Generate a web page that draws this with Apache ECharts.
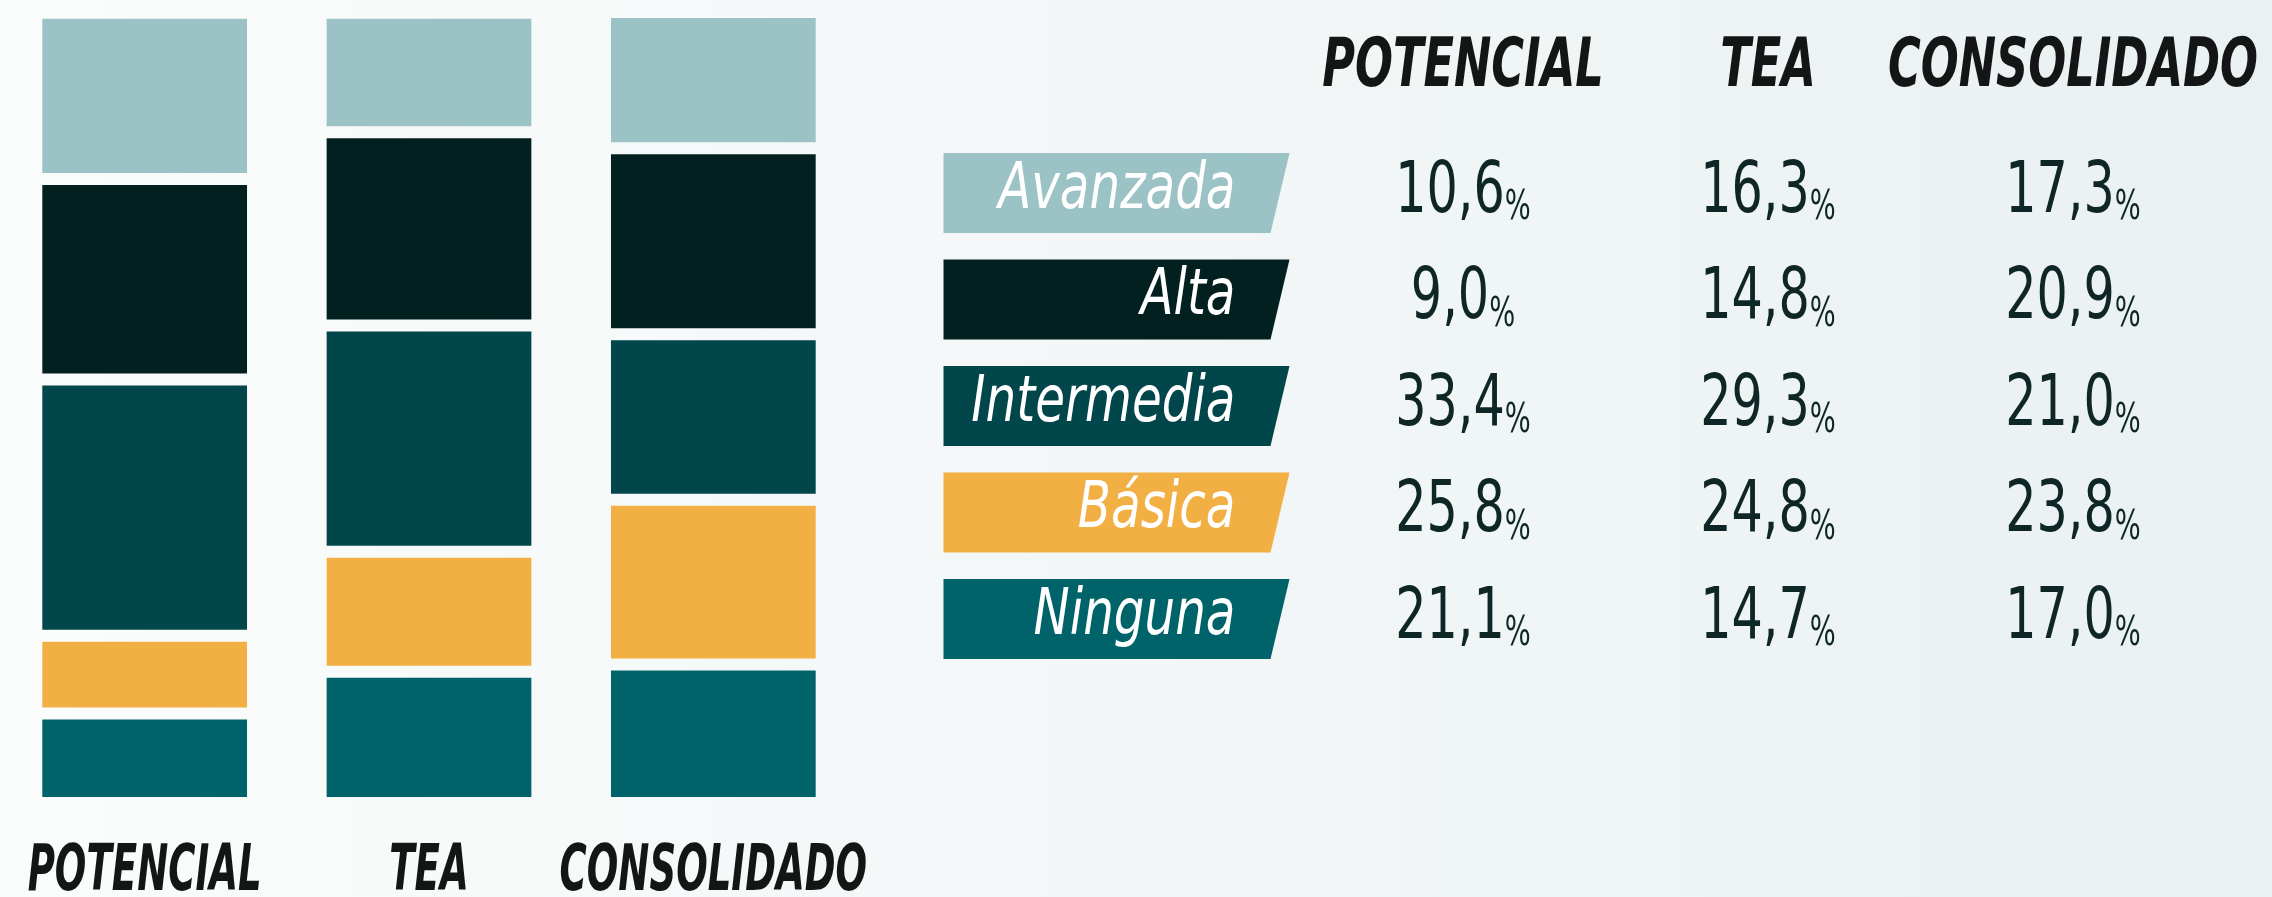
<!DOCTYPE html>
<html lang="es">
<head>
<meta charset="utf-8">
<title>Competencias digitales por grupo</title>
<script src="https://cdn.jsdelivr.net/npm/echarts@6/dist/echarts.min.js"></script>
<style>
    html, body { margin: 0; padding: 0; }
    #chart { width: 2272px; height: 897px; }
</style>
</head>
<body>
<div id="chart"></div>
<script>
    var groups = ['POTENCIAL', 'TEA', 'CONSOLIDADO'];
    var levels = ['Avanzada', 'Alta', 'Intermedia', 'Básica', 'Ninguna'];
    var levelColors = ['#9bc2c5', '#02201f', '#00464b', '#f2af43', '#00636a'];

    // % per level, in table order (Avanzada ... Ninguna)
    var potencial = [10.6, 9.0, 33.4, 25.8, 21.1];
    var tea = [16.3, 14.8, 29.3, 24.8, 14.7];
    var consolidado = [17.3, 20.9, 21.0, 23.8, 17.0];
    var columns = [potencial, tea, consolidado];

    // only condensed face available, squeezed further with scaleX
    var FONT = "'DejaVu Sans Condensed', 'DejaVu Sans', sans-serif";
    var GAP = 12;
    var INK = '#141616';

    // the bars stack the table rows from the bottom up, coloured in the reverse order
    var barSeries = [];
    for (var k = 0; k < levels.length; k++) {
        var data = [];
        for (var c = 0; c < columns.length; c++) {
            var start = 0;
            for (var j = 0; j < k; j++) start += columns[c][j];
            data.push([c, start, start + columns[c][k], k]);
        }
        barSeries.push({
            type: 'custom',
            name: levels[levels.length - 1 - k],
            xAxisIndex: 0,
            yAxisIndex: 0,
            itemStyle: { color: levelColors[levels.length - 1 - k] },
            encode: { x: 0, y: [1, 2] },
            renderItem: function (params, api) {
                var lo = api.coord([api.value(0), api.value(1)]);
                var hi = api.coord([api.value(0), api.value(2)]);
                var w = api.size([1, 0])[0] * 0.72;
                var off = api.value(3) * GAP;
                return {
                    type: 'rect',
                    shape: { x: lo[0] - w / 2, y: hi[1] - off, width: w, height: lo[1] - hi[1] },
                    style: { fill: api.visual('color') }
                };
            },
            data: data
        });
    }

    var tableData = [];
    for (var r = 0; r < levels.length; r++) {
        for (var c2 = 0; c2 < columns.length; c2++) {
            tableData.push([c2, r, columns[c2][r]]);
        }
    }
    var groupIdx = groups.map(function (g, i) { return [i, 0]; });
    var levelIdx = levels.map(function (l, i) { return [0, i]; });

    function squeezedText(x, y, sx, style) {
        style.x = 0;
        style.y = 0;
        return { type: 'text', x: x, y: y, scaleX: sx, style: style };
    }

    var myChart = echarts.init(document.getElementById('chart'));

    option = {
        animation: false,
        backgroundColor: {
            type: 'linear', x: 0, y: 0, x2: 1, y2: 0,
            colorStops: [{ offset: 0, color: '#fbfcfc' }, { offset: 1, color: '#eaf1f2' }]
        },
        grid: [
            { left: 2.5, width: 853, top: 66, height: 731, outerBoundsMode: 'none' },
            { left: 1310.5, width: 915, top: 139.75, height: 532.5, outerBoundsMode: 'none' }
        ],
        xAxis: [
            { gridIndex: 0, type: 'category', data: groups, show: false },
            { gridIndex: 1, type: 'category', data: groups, position: 'top', show: false }
        ],
        yAxis: [
            { gridIndex: 0, type: 'value', min: 0, max: 100, show: false },
            { gridIndex: 1, type: 'category', data: levels, inverse: true, show: false }
        ],
        series: barSeries.concat([
            {
                // group names under the bars
                type: 'custom',
                xAxisIndex: 0,
                yAxisIndex: 0,
                encode: { x: 0, y: 1 },
                renderItem: function (params, api) {
                    var p = api.coord([api.value(0), 0]);
                    return squeezedText(p[0], p[1] + 76, 0.645, {
                        text: groups[api.value(0)],
                        align: 'center', verticalAlign: 'middle',
                        fill: INK, fontSize: 64, fontWeight: 'bold', fontStyle: 'italic', fontFamily: FONT
                    });
                },
                data: groupIdx
            },
            {
                // table header
                type: 'custom',
                xAxisIndex: 1,
                yAxisIndex: 1,
                encode: { x: 0, y: 1 },
                renderItem: function (params, api) {
                    var p = api.coord([api.value(0), 0]);
                    return squeezedText(p[0], params.coordSys.y - 71, 0.73, {
                        text: groups[api.value(0)],
                        align: 'center', verticalAlign: 'middle',
                        fill: INK, fontSize: 68, fontWeight: 'bold', fontStyle: 'italic', fontFamily: FONT
                    });
                },
                data: groupIdx
            },
            {
                // level tags
                type: 'custom',
                xAxisIndex: 1,
                yAxisIndex: 1,
                encode: { x: 0, y: 1 },
                renderItem: function (params, api) {
                    var i = api.value(1);
                    var p = api.coord([0, i]);
                    var right = params.coordSys.x - 21;
                    var left = params.coordSys.x - 367;
                    var top = p[1] - 40, bottom = p[1] + 40;
                    return {
                        type: 'group',
                        children: [
                            {
                                type: 'polygon',
                                shape: { points: [[left, top], [right, top], [right - 19, bottom], [left, bottom]] },
                                style: { fill: levelColors[i] }
                            },
                            squeezedText(right - 54, p[1] - 2, 0.84, {
                                text: levels[i],
                                align: 'right', verticalAlign: 'middle',
                                fill: '#ffffff', fontSize: 64, fontStyle: 'italic', fontFamily: FONT
                            })
                        ]
                    };
                },
                data: levelIdx
            },
            {
                // values
                type: 'custom',
                xAxisIndex: 1,
                yAxisIndex: 1,
                encode: { x: 0, y: 1 },
                renderItem: function (params, api) {
                    var p = api.coord([api.value(0), api.value(1)]);
                    var txt = api.value(2).toFixed(1).replace('.', ',');
                    return squeezedText(p[0], p[1], 0.76, {
                        text: '{n|' + txt + '}{p|%}',
                        align: 'center', verticalAlign: 'middle',
                        rich: {
                            n: { fontSize: 72, lineHeight: 72, fill: '#0e2625', fontFamily: FONT, verticalAlign: 'bottom' },
                            p: { fontSize: 40, lineHeight: 72, fill: '#0e2625', fontFamily: FONT, verticalAlign: 'bottom' }
                        }
                    });
                },
                data: tableData
            }
        ])
    };

    myChart.setOption(option);
</script>
</body>
</html>
